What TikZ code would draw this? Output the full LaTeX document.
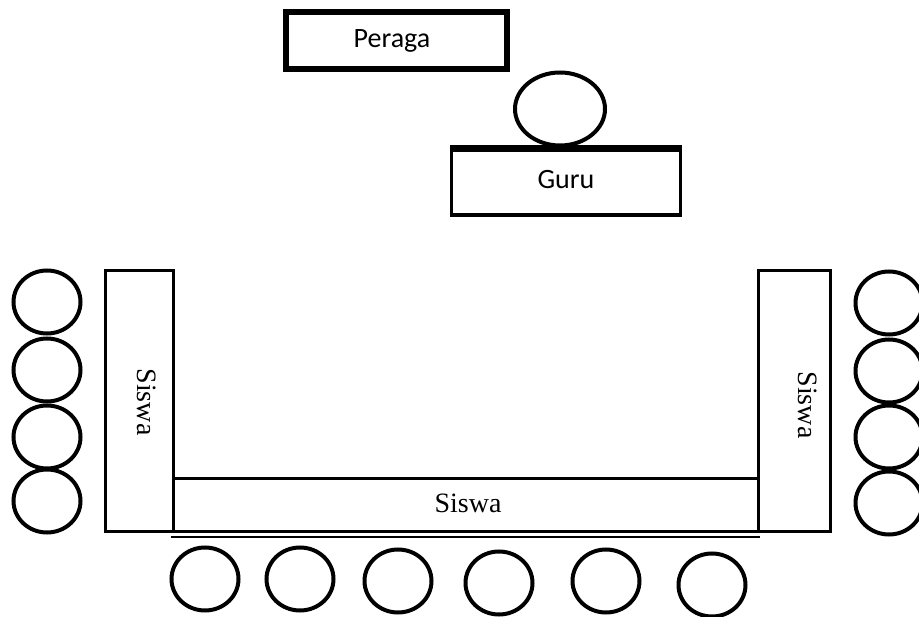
\documentclass[tikz,border=0pt]{standalone}
\usepackage{fontspec}
\setmainfont{Liberation Serif}
\newfontfamily\calibrifont{Carlito}
\usetikzlibrary{shapes.geometric}
\begin{document}
\begin{tikzpicture}[x=1pt,y=-1pt,
  seat/.style={draw,ellipse,line width=4pt,inner sep=0pt,minimum width=67pt,minimum height=63pt},
  desk/.style={draw,rectangle,line width=3pt,inner sep=0pt},
  serif/.style={font=\fontsize{28}{32}\selectfont},
  sans/.style={font=\calibrifont\fontsize{28}{32}\selectfont}]
\useasboundingbox[fill=white] (0,0) rectangle (919,617);
% Peraga
\node[desk,line width=6pt,minimum width=221pt,minimum height=57pt] (peraga) at (396,41) {};
\node[sans] (peragat) at (392,41) {Peraga};
% Guru
\node[draw,ellipse,line width=4pt,inner sep=0pt,minimum width=90pt,minimum height=73pt] (head) at (560,109) {};
\node[desk,line width=3.5pt,minimum width=229pt,minimum height=65pt] (guru) at (566,182.5) {};
\draw[line width=6pt] (guru.north west) -- (guru.north east);
\node[sans] (gurut) at (566,180) {Guru};
% Student desks
\node[desk,minimum width=68pt,minimum height=261pt] (left) at (139,401.5) {};
\node[desk,minimum width=72pt,minimum height=261pt] (right) at (794,401.5) {};
\node[desk,minimum width=585pt,minimum height=53pt] (bottom) at (465.5,505.5) {};
\draw[line width=2pt] ([xshift=-1pt,yshift=-4pt]bottom.south west) -- ([yshift=-4pt]bottom.south east);
\node[serif,rotate=-90] (leftt) at (147,402) {Siswa};
\node[serif,rotate=-90] (rightt) at (808,405) {Siswa};
\node[serif] (bottomt) at (468,503) {Siswa};
% Left seats
\node[seat] (l1) at (47,302) {};
\node[seat] (l2) at (47,370) {};
\node[seat] (l3) at (47,437) {};
\node[seat] (l4) at (47,501) {};
% Right seats
\node[seat] (r1) at (889,303) {};
\node[seat] (r2) at (889,371) {};
\node[seat] (r3) at (889,437) {};
\node[seat] (r4) at (889,503) {};
% Bottom seats
\node[seat] (b1) at (205,579) {};
\node[seat] (b2) at (300,579) {};
\node[seat] (b3) at (398,581) {};
\node[seat] (b4) at (499,583) {};
\node[seat] (b5) at (606,581) {};
\node[seat] (b6) at (712,585) {};
\end{tikzpicture}
\end{document}
